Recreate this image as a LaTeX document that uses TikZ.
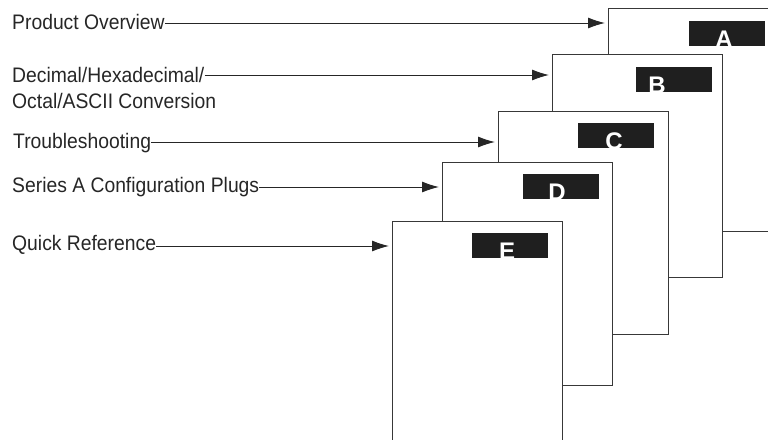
\documentclass[tikz,border=0pt]{standalone}
\usepackage{fontspec}
\setmainfont{Liberation Sans}
\newfontfamily\lblfont[FakeStretch=0.92]{Liberation Sans}
\usetikzlibrary{arrows.meta}
\begin{document}
\begin{tikzpicture}[x=1pt,y=-1pt,
  pagebox/.style={draw=black!78, fill=white, line width=0.9pt, inner sep=0, anchor=north west, minimum width=170pt, minimum height=223pt},
  tabbox/.style={fill=black!88, draw=none, inner sep=0, anchor=north west, minimum width=76pt, minimum height=25pt},
  tabletter/.style={text=white, font=\fontsize{24}{24}\selectfont\bfseries, inner sep=0, anchor=base},
  lbl/.style={font=\lblfont\fontsize{21}{22}\selectfont, text=black!85, inner sep=0, anchor=base west},
  conn/.style={draw=black!85, line width=0.9pt, -{Latex[length=17pt,width=11pt]}, shorten >=3pt}]
\useasboundingbox (0,0) rectangle (768,439);
\clip (0,0) rectangle (768,439);
% pages, back to front
\node[pagebox] (pgA) at (608,8) {};
\node[tabbox] (tabA) at (689,21) {};
\node[tabletter] (letA) at (724,47) {A};
\node[pagebox] (pgB) at (552,54) {};
\node[tabbox] (tabB) at (636,67) {};
\node[tabletter] (letB) at (657,93) {B};
\node[pagebox] (pgC) at (498,111) {};
\node[tabbox] (tabC) at (578,123) {};
\node[tabletter] (letC) at (614,149) {C};
\node[pagebox] (pgD) at (442,162) {};
\node[tabbox] (tabD) at (523,174) {};
\node[tabletter] (letD) at (557,200) {D};
\node[pagebox] (pgE) at (392,221) {};
\node[tabbox] (tabE) at (472,233) {};
\node[tabletter] (letE) at (507,259) {E};
% labels
\node[lbl] (lblA) at (12,29) {Product Overview};
\node[lbl] (lblB) at (12,82) {Decimal/Hexadecimal/};
\node[lbl] (lblB2) at (12,108) {Octal/ASCII Conversion};
\node[lbl] (lblC) at (13,148) {Troubleshooting};
\node[lbl] (lblD) at (12,192) {Series A Configuration Plugs};
\node[lbl] (lblE) at (12,250) {Quick Reference};
% arrow targets
\coordinate (tA) at (608,23);
\coordinate (tB) at (552,75);
\coordinate (tC) at (498,142);
\coordinate (tD) at (442,187);
\coordinate (tE) at (392,246);
\draw[conn] (lblA.east |- tA) -- (tA);
\draw[conn] (lblB.east |- tB) -- (tB);
\draw[conn] (lblC.east |- tC) -- (tC);
\draw[conn] (lblD.east |- tD) -- (tD);
\draw[conn] (lblE.east |- tE) -- (tE);
\end{tikzpicture}
\end{document}
